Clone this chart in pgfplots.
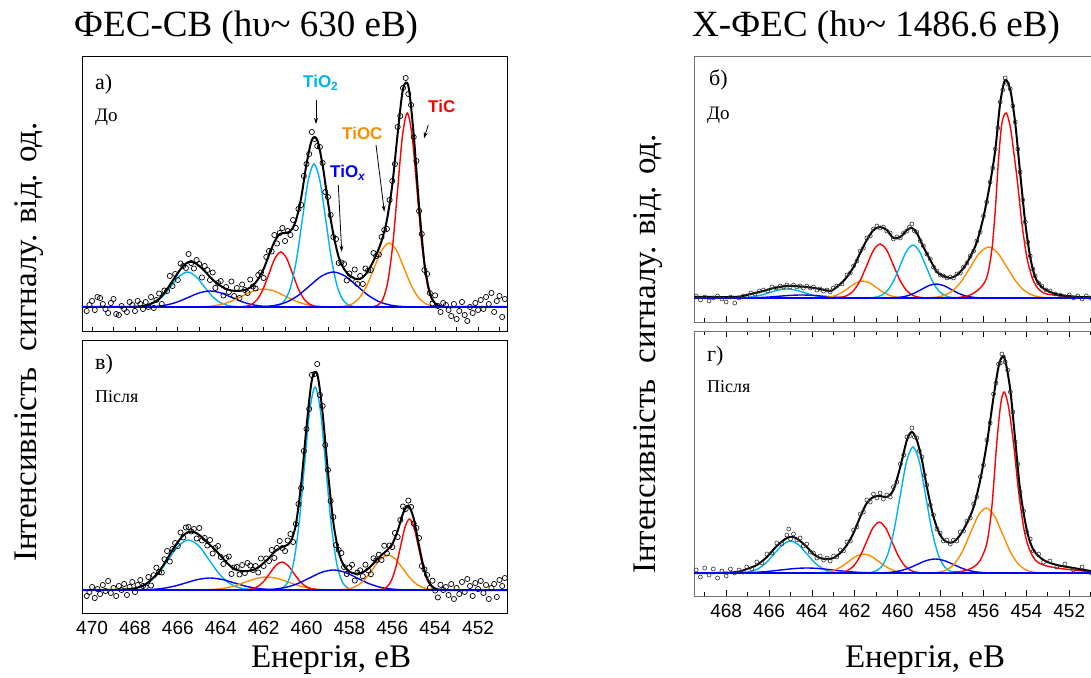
\documentclass[border=0pt]{standalone}
\usepackage{fontspec}
\setmainfont{Liberation Serif}
\newfontfamily\sansf{Liberation Sans}
\usepackage{pgfplots}
\pgfplotsset{compat=1.18}
\usetikzlibrary{arrows.meta}
\definecolor{ccyan}{RGB}{0,176,240}
\definecolor{corange}{RGB}{255,140,0}
\definecolor{cred}{RGB}{255,0,0}
\definecolor{cblue}{RGB}{0,0,255}
\pgfplotsset{
  panel/.style={scale only axis, x dir=reverse, ytick=\empty, clip=true,
    axis line style={line width=0.8pt},
    xtick={452,454,...,470}, minor xtick={451,453,...,469}, tick align=inside,
    tick style={line width=0.8pt, black}, major tick length=4pt, minor tick length=4pt,
    /pgf/number format/assume math mode=true, /pgf/number format/1000 sep={},
    xticklabel style={font=\sansf\fontsize{19}{19}\selectfont, yshift=-5pt},
  },
  comp/.style={smooth, no marks, line width=1.4pt},
  env/.style={smooth, no marks, line width=2pt, black},
  pts/.style={only marks, mark=o, mark size=2.6pt, mark options={line width=0.7pt, black}},
  ptsr/.style={only marks, mark=o, mark size=2pt, mark options={line width=0.6pt, black!80}},
}
\begin{document}
\begin{tikzpicture}[x=1pt,y=1pt]
\useasboundingbox (0pt,0pt) rectangle (1091pt,677pt);
\clip (0pt,0pt) rectangle (1091pt,677pt);

% ---------------- panel a ----------------
\begin{axis}[panel, at={(82pt,346pt)}, anchor=south west, width=425pt, height=275pt,
  xmin=450.65, xmax=470.47, ymin=-24, ymax=251, xtick pos=left, xticklabels={}]
\addplot[pts] coordinates {(470.25,-4)(470.125,2)(470,6)(469.875,-3)(469.75,10)(469.625,9)(469.5,3)(469.375,-2)(469.25,-6)(469.125,4)(469,8)(468.875,-7)(468.75,-8)(468.625,1)(468.5,-2)(468.375,-5)(468.25,5)(468.125,2)(468,-4)(467.875,6)(467.75,3)(467.625,-2)
(467.5,5)(467.375,0)(467.25,10)(467.125,-1)(467,7)(466.875,13.5)(466.75,3)(466.625,16.5)(466.5,16)(466.375,31)(466.25,21)(466.125,33)(466,27)(465.875,43.5)(465.75,41)(465.625,39)(465.5,53)(465.375,44)(465.25,38.5)(465.125,47)(465,43)(464.875,29.5)(464.75,41)(464.625,37)(464.5,27)(464.375,34.5)(464.25,19)(464.125,24)(464,26)(463.875,11.5)(463.75,20)(463.625,15)(463.5,25.5)(463.375,11)(463.25,19)(463.125,9)(463,22.5)(462.875,17)(462.75,14)(462.625,27.5)(462.5,20.5)(462.375,18.5)(462.25,32)(462.125,34.5)(462,29)(461.875,50)(461.75,56)(461.625,55.5)(461.5,72)(461.375,63.5)(461.25,74)(461.125,79)(461,66)(460.875,76)(460.75,72)(460.625,87)(460.5,79)(460.375,98)(460.25,102)(460.125,131)(460,143)(459.875,153)(459.75,175)(459.625,168)(459.5,161)(459.375,160)(459.25,144)(459.125,115)(459,110)(458.875,92)(458.75,70)(458.625,68)(458.5,44)(458.375,44.5)(458.25,43)(458.125,26.5)(458,33.5)(457.875,28)(457.75,37.5)(457.625,23)(457.5,31)(457.375,23)(457.25,38.5)(457.125,36.5)(457,37)(456.875,54)(456.75,51)(456.625,52.5)(456.5,70)(456.375,77)(456.25,78)(456.125,107)(456,126)(455.875,143)(455.75,180)(455.625,191)(455.5,219)(455.375,229)(455.25,213)(455.125,202)(455,170)(454.875,146)(454.75,96)(454.625,73)(454.5,37)(454.375,33)(454.25,14)(454.125,3.5)(454,11.6)(453.875,1)(453.75,-5)(453.625,4)(453.5,2)
(453.375,-3)(453.25,-9)(453.125,3)(453,-12)(452.875,-4)(452.75,5)(452.625,-8)(452.5,-14)(452.375,0)(452.25,-6)(452.125,4)(452,-3)(451.875,7)(451.75,-2)(451.625,10)(451.5,3)(451.375,14)(451.25,-5)(451.125,6)(451,11)(450.875,-10)(450.75,8)};
\addplot[comp, ccyan] coordinates {(468.175,0.08)(467.8,0.39)(467.425,1.54)(467.05,4.74)(466.675,11.36)(466.3,21.23)(465.925,30.89)(465.55,35)(465.175,30.89)(464.8,21.23)(464.425,11.36)(464.05,4.74)(463.675,1.54)(463.3,0.39)(462.925,0.08)};
\addplot[comp, cblue] coordinates {(468,0.04)(467.5,0.18)(467,0.7)(466.5,2.16)(466,5.2)(465.5,9.7)(465,14.1)(464.5,16)(464,14.1)(463.5,9.7)(463,5.2)(462.5,2.16)(462,0.7)(461.5,0.18)(461,0.04)};
\addplot[comp, corange] coordinates {(465.5,0.04)(465,0.2)(464.5,0.79)(464,2.44)(463.5,5.84)(463,10.92)(462.5,15.89)(462,18)(461.5,15.89)(461,10.92)(460.5,5.84)(460,2.44)(459.5,0.79)(459,0.2)(458.5,0.04)};
\addplot[comp, cred] coordinates {(463.125,0.12)(462.85,0.61)(462.575,2.41)(462.3,7.44)(462.025,17.86)(461.75,33.36)(461.475,48.54)(461.2,55)(460.925,48.54)(460.65,33.36)(460.375,17.86)(460.1,7.44)(459.825,2.41)(459.55,0.61)(459.275,0.12)};
\addplot[comp, ccyan] coordinates {(461.575,0.31)(461.3,1.59)(461.025,6.28)(460.75,19.35)(460.475,46.43)(460.2,86.73)(459.925,126.2)(459.65,143)(459.375,126.2)(459.1,86.73)(458.825,46.43)(458.55,19.35)(458.275,6.28)(458,1.59)(457.725,0.31)};
\addplot[comp, cblue] coordinates {(462.6,0.08)(462.05,0.39)(461.5,1.54)(460.95,4.74)(460.4,11.36)(459.85,21.23)(459.3,30.89)(458.75,35)(458.2,30.89)(457.65,21.23)(457.1,11.36)(456.55,4.74)(456,1.54)(455.45,0.39)(454.9,0.08)};
\addplot[comp, corange] coordinates {(458.6,0.14)(458.25,0.71)(457.9,2.81)(457.55,8.66)(457.2,20.78)(456.85,38.82)(456.5,56.48)(456.15,64)(455.8,56.48)(455.45,38.82)(455.1,20.78)(454.75,8.66)(454.4,2.81)(454.05,0.71)(453.7,0.14)};
\addplot[comp, cred] coordinates {(456.875,0.43)(456.65,2.15)(456.425,8.52)(456.2,26.25)(455.975,62.99)(455.75,117.66)(455.525,171.2)(455.3,194)(455.075,171.2)(454.85,117.66)(454.625,62.99)(454.4,26.25)(454.175,8.52)(453.95,2.15)(453.725,0.43)};
\addplot[env] coordinates {(470.4,0)(470,0)(469.5,0)(469,0)(468.5,0.1)(468,0.3)(467.5,1.4)(467,6)(466.75,11)(466.5,18)(466.25,26)(466,34)(465.75,41)(465.5,45)(465.25,44.5)(465,41)(464.75,36)(464.5,30)(464.25,25)(464,21)(463.75,18)(463.5,16.5)(463.25,16)(463,16.5)(462.75,18)(462.5,21.5)(462.25,28)(462,38)(461.75,52)(461.5,65)(461.25,73)(461,74)(460.75,76)(460.5,86)(460.25,109)(460,143)(459.75,167)(459.5,167)(459.25,142)(459,105)(458.75,73)(458.5,50)(458.25,38)(458,31.5)(457.75,28.5)(457.5,28)(457.25,32.5)(457,41)(456.75,52)(456.5,66)(456.25,87)(456,122)(455.75,173)(455.5,218)(455.25,221)(455,172)(454.75,101)(454.5,44)(454.25,14)(454,3.6)(453.75,0.7)(453.5,0)(453,0)(452,0)(451,0)(450.6,0)};
\addplot[cblue, line width=2pt] coordinates {(470.5,0)(450.6,0)};
\end{axis}

% ---------------- panel v ----------------
\begin{axis}[panel, at={(82pt,64pt)}, anchor=south west, width=425pt, height=273pt,
  xmin=450.65, xmax=470.47, ymin=-23, ymax=250, major tick length=0pt, minor tick length=0pt]
\addplot[pts] coordinates {(470.25,-6)(470.125,-2)(470,3)(469.875,-8)(469.75,1)(469.625,-4)(469.5,5)(469.375,-1)(469.25,9)(469.125,-3)(469,2)(468.875,-6)(468.75,4)(468.625,0)(468.5,6)(468.375,-5)(468.25,3)(468.125,8)(468,-2)(467.875,5)(467.75,10)(467.625,4)
(467.5,2.8)(467.375,13)(467.25,4.5)(467.125,14.8)(467,22.3)(466.875,17.8)(466.75,17.5)(466.625,30.7)(466.5,39)(466.375,28.5)(466.25,41)(466.125,47)(466,44)(465.875,57.5)(465.75,52.5)(465.625,62.5)(465.5,63)(465.375,58.5)(465.25,61)(465.125,51.5)(465,62)(464.875,49.5)(464.75,52)(464.625,44.5)(464.5,50)(464.375,36.5)(464.25,42)(464.125,44)(464,33)(463.875,26)(463.75,32)(463.625,33.5)(463.5,16)(463.375,22.5)(463.25,23)(463.125,15.5)(463,25)(462.875,17)(462.75,27)(462.625,24.5)(462.5,20)(462.375,24)(462.25,17.5)(462.125,31.5)(462,24)(461.875,31.5)(461.75,29)(461.625,40)(461.5,32)(461.375,42)(461.25,49)(461.125,42)(461,39)(460.875,49.5)(460.75,56)(460.625,48)(460.5,66)(460.375,86)(460.25,102)(460.125,139)(460,161)(459.875,181)(459.75,215)(459.625,216)(459.5,226)(459.375,195)(459.25,184)(459.125,145)(459,120)(458.875,89)(458.75,73)(458.625,45)(458.5,40)(458.375,37)(458.25,23)(458.125,16)(458,22.4)(457.875,25.2)(457.75,9.4)(457.625,17.4)(457.5,19.7)(457.375,13.8)(457.25,25.3)(457.125,19.5)(457,15.8)(456.875,31.7)(456.75,29.6)(456.625,35.3)(456.5,30)(456.375,44.3)(456.25,36.6)(456.125,44.5)(456,43)(455.875,57)(455.75,53)(455.625,70)(455.5,83.5)(455.375,81)(455.25,89.4)(455.125,83)(455,66.4)(454.875,62)(454.75,52)(454.625,24)(454.5,20.6)(454.375,15)(454.25,2.2)(454.125,9.3)(454,-0.6)(453.875,-7.4)(453.75,5.2)(453.625,0)(453.5,3)
(453.375,-5)(453.25,6)(453.125,-9)(453,2)(452.875,-4)(452.75,8)(452.625,-2)(452.5,11)(452.375,4)(452.25,-6)(452.125,7)(452,1)(451.875,9)(451.75,-3)(451.625,5)(451.5,-9)(451.375,2)(451.25,6)(451.125,-7)(451,10)(450.875,4)(450.75,12)};
\addplot[comp, ccyan] coordinates {(468.825,0.11)(468.35,0.56)(467.875,2.2)(467.4,6.77)(466.925,16.24)(466.45,30.33)(465.975,44.13)(465.5,50)(465.025,44.13)(464.55,30.33)(464.075,16.24)(463.6,6.77)(463.125,2.2)(462.65,0.56)(462.175,0.11)};
\addplot[comp, cblue] coordinates {(468.35,0.03)(467.8,0.13)(467.25,0.53)(466.7,1.62)(466.15,3.9)(465.6,7.28)(465.05,10.59)(464.5,12)(463.95,10.59)(463.4,7.28)(462.85,3.9)(462.3,1.62)(461.75,0.53)(461.2,0.13)(460.65,0.03)};
\addplot[comp, corange] coordinates {(465.35,0.03)(464.85,0.14)(464.35,0.57)(463.85,1.76)(463.35,4.22)(462.85,7.88)(462.35,11.47)(461.85,13)(461.35,11.47)(460.85,7.88)(460.35,4.22)(459.85,1.76)(459.35,0.57)(458.85,0.14)(458.35,0.03)};
\addplot[comp, cred] coordinates {(463.075,0.06)(462.8,0.31)(462.525,1.23)(462.25,3.79)(461.975,9.09)(461.7,16.98)(461.425,24.71)(461.15,28)(460.875,24.71)(460.6,16.98)(460.325,9.09)(460.05,3.79)(459.775,1.23)(459.5,0.31)(459.225,0.06)};
\addplot[comp, ccyan] coordinates {(461.35,0.45)(461.1,2.25)(460.85,8.91)(460.6,27.47)(460.35,65.91)(460.1,123.12)(459.85,179.15)(459.6,203)(459.35,179.15)(459.1,123.12)(458.85,65.91)(458.6,27.47)(458.35,8.91)(458.1,2.25)(457.85,0.45)};
\addplot[comp, cblue] coordinates {(462.6,0.04)(462.05,0.22)(461.5,0.88)(460.95,2.71)(460.4,6.49)(459.85,12.13)(459.3,17.65)(458.75,20)(458.2,17.65)(457.65,12.13)(457.1,6.49)(456.55,2.71)(456,0.88)(455.45,0.22)(454.9,0.04)};
\addplot[comp, corange] coordinates {(458.65,0.08)(458.3,0.39)(457.95,1.54)(457.6,4.74)(457.25,11.36)(456.9,21.23)(456.55,30.89)(456.2,35)(455.85,30.89)(455.5,21.23)(455.15,11.36)(454.8,4.74)(454.45,1.54)(454.1,0.39)(453.75,0.08)};
\addplot[comp, cred] coordinates {(456.67,0.16)(456.46,0.79)(456.25,3.12)(456.04,9.61)(455.83,23.05)(455.62,43.06)(455.41,62.66)(455.2,71)(454.99,62.66)(454.78,43.06)(454.57,23.05)(454.36,9.61)(454.15,3.12)(453.94,0.79)(453.73,0.16)};
\addplot[env] coordinates {(470.4,0)(470,0)(469.5,0.1)(469,0.2)(468.5,0.6)(468,1.7)(467.5,5.8)(467,15.3)(466.75,22.5)(466.5,31)(466.25,40)(466,48)(465.75,54.5)(465.5,58)(465.25,58)(465,55)(464.75,50)(464.5,45)(464.25,40)(464,34)(463.75,28)(463.5,23)(463.25,20)(463,19)(462.75,19)(462.5,20)(462.25,22.5)(462,27)(461.75,32)(461.5,38)(461.25,42)(461,44)(460.75,48)(460.5,65)(460.25,106)(460,163)(459.75,210)(459.5,216)(459.25,177)(459,118)(458.75,68)(458.5,38)(458.25,24)(458,18.4)(457.75,16.4)(457.5,16.7)(457.25,19.3)(457,23.8)(456.75,29.6)(456.5,35)(456.25,39.6)(456,46)(455.75,59)(455.5,76.5)(455.25,84.4)(455,71.4)(454.75,44)(454.5,19.6)(454.25,6.2)(454,1.4)(453.75,0.2)(453.5,0)(453,0)(452,0)(450.6,0)};
\addplot[cblue, line width=2pt] coordinates {(470.5,0)(450.6,0)};
\end{axis}

% ---------------- panel b ----------------
\begin{axis}[panel, at={(694pt,355pt)}, anchor=south west, width=407.4pt, height=266pt,
  xmin=450.5, xmax=469.5, ymin=-24, ymax=242, xtick pos=left, xticklabels={},
  axis line style={black!55}, major tick length=6pt, minor tick length=4pt]
\addplot[ptsr] coordinates {(469.4,2)(469.2,-2)(469,1)(468.8,-3)(468.6,0)(468.4,2)(468.2,-1)(468,-4)(467.8,1)(467.6,-5)(467.4,0)(467.2,2)(467.04,2)(466.85,5)(466.65,4)(466.45,7)(466.26,8)(466.06,7)(465.87,11)(465.67,10)(465.48,12)(465.33,11)(465.17,13)(465.02,11)(464.86,13)(464.7,11)(464.55,12)(464.4,10)(464.24,12)(464.08,10)(463.93,11)(463.77,8)(463.62,9)(463.46,7)(463.3,8)(463.15,6)(463,10)(462.84,12)(462.6,14)(462.37,23)(462.21,25)(462.06,32)(461.9,37)(461.75,47)(461.6,50)(461.44,60)(461.28,62)(461.13,69)(460.97,72)(460.82,70)(460.67,71)(460.51,67)(460.35,65)(460.2,59)(460.04,61)(459.88,60)(459.72,65)(459.57,67)(459.45,71)(459.34,74)(459.22,67)(459.11,66)(458.95,57)(458.8,52)(458.64,44)(458.48,39)(458.33,31)(458.17,27)(458.02,23)(457.86,22)(457.7,20)(457.55,21)(457.4,20)(457.24,24)(457.08,25)(456.93,31)(456.77,35)(456.62,42)(456.46,47)(456.31,57)(456.15,66)(456,82)(455.85,96)(455.69,116)(455.57,130)(455.45,149)(455.33,170)(455.22,196)(455.1,208)(454.99,220)(454.87,214)(454.75,209)(454.63,192)(454.52,176)(454.4,149)(454.29,126)(454.17,98)(454.05,76)(453.94,56)(453.82,42)(453.7,29)(453.59,22)(453.43,15)(453.28,12)(453.08,8)(452.89,7)(452.65,4)(452.42,3)(452.2,1)(452,3)(451.8,0)(451.6,2)(451.4,-1)(451.2,2)(451,0)(450.8,1)(450.6,-1)};
\addplot[comp, ccyan] coordinates {(467.97,0.02)(467.57,0.1)(467.17,0.4)(466.77,1.22)(466.37,2.92)(465.97,5.46)(465.57,7.94)(465.17,9)(464.77,7.94)(464.37,5.46)(463.97,2.92)(463.57,1.22)(463.17,0.4)(462.77,0.1)(462.37,0.02)};
\addplot[comp, cblue] coordinates {(468,0)(467.5,0.03)(467,0.13)(466.5,0.41)(466,0.97)(465.5,1.82)(465,2.65)(464.5,3)(464,2.65)(463.5,1.82)(463,0.97)(462.5,0.41)(462,0.13)(461.5,0.03)(461,0)};
\addplot[comp, corange] coordinates {(463.905,0.04)(463.58,0.19)(463.255,0.75)(462.93,2.3)(462.605,5.52)(462.28,10.31)(461.955,15)(461.63,17)(461.305,15)(460.98,10.31)(460.655,5.52)(460.33,2.3)(460.005,0.75)(459.68,0.19)(459.355,0.04)};
\addplot[comp, cred] coordinates {(462.99,0.12)(462.68,0.6)(462.37,2.37)(462.06,7.31)(461.75,17.53)(461.44,32.75)(461.13,47.66)(460.82,54)(460.51,47.66)(460.2,32.75)(459.89,17.53)(459.58,7.31)(459.27,2.37)(458.96,0.6)(458.65,0.12)};
\addplot[comp, ccyan] coordinates {(461.39,0.12)(461.09,0.59)(460.79,2.33)(460.49,7.17)(460.19,17.21)(459.89,32.14)(459.59,46.77)(459.29,53)(458.99,46.77)(458.69,32.14)(458.39,17.21)(458.09,7.17)(457.79,2.33)(457.49,0.59)(457.19,0.12)};
\addplot[comp, cblue] coordinates {(460.65,0.03)(460.3,0.16)(459.95,0.61)(459.6,1.89)(459.25,4.55)(458.9,8.49)(458.55,12.36)(458.2,14)(457.85,12.36)(457.5,8.49)(457.15,4.55)(456.8,1.89)(456.45,0.61)(456.1,0.16)(455.75,0.03)};
\addplot[comp, corange] coordinates {(458.735,0.11)(458.31,0.57)(457.885,2.24)(457.46,6.9)(457.035,16.56)(456.61,30.93)(456.185,45.01)(455.76,51)(455.335,45.01)(454.91,30.93)(454.485,16.56)(454.06,6.9)(453.635,2.24)(453.21,0.57)(452.785,0.11)};
\addplot[comp, cred] coordinates {(457.4,0.3)(457.08,0.7)(456.62,3)(456.15,10)(455.84,21)(455.61,48)(455.45,88)(455.3,138)(455.14,175)(454.94,185)(454.75,171)(454.6,148)(454.41,115)(454.21,75)(453.98,41)(453.74,21)(453.51,11)(453.2,5)(452.73,3)(451.96,1.3)(450.98,1)(450.4,1)};
\addplot[env] coordinates {(469.6,1)(468.5,1)(467.8,1)(467.35,1.5)(467.04,3)(466.65,5)(466.26,7)(465.87,9.5)(465.48,11)(465.17,12)(464.86,12)(464.55,11.5)(464.24,11)(463.93,10)(463.62,9)(463.3,7.5)(463.15,7)(462.99,8.5)(462.84,11)(462.6,15.5)(462.37,21)(462.06,31)(461.75,45)(461.44,58)(461.13,68)(460.82,71)(460.51,68)(460.2,60)(459.88,61)(459.57,68)(459.34,70)(459.11,65)(458.8,51)(458.48,38)(458.17,26)(457.86,22)(457.55,20)(457.24,23)(456.93,30)(456.62,41)(456.31,56)(456,81)(455.69,115)(455.45,148)(455.22,195)(454.99,218)(454.75,208)(454.52,175)(454.29,125)(454.05,75)(453.82,41)(453.59,21)(453.28,11)(452.89,6)(452.42,3)(451.49,1)(450.4,1)};
\addplot[cblue, line width=2pt] coordinates {(469.6,0)(450.4,0)};
\end{axis}

% ---------------- panel g ----------------
\begin{axis}[panel, at={(694pt,81pt)}, anchor=south west, width=407.4pt, height=265pt,
  xmin=450.5, xmax=469.5, ymin=-23, ymax=242,
  axis line style={black!55}, major tick length=6pt, minor tick length=4pt]
\addplot[ptsr] coordinates {(469.4,3)(469.2,-4)(469,5)(468.8,-2)(468.6,4)(468.4,-5)(468.2,2)(468,-3)(467.8,4)(467.6,0)(467.4,3)(467.2,1)(467.04,6)(466.8,4)(466.57,11)(466.33,10)(466.1,19)(465.87,20)(465.64,30)(465.4,29)(465.17,38)(465.08,44)(465,34)(464.86,39)(464.7,33)(464.55,35)(464.4,27)(464.24,29)(464.08,21)(463.93,20)(463.77,15)(463.62,17)(463.46,13)(463.3,15)(463.15,12)(462.99,17)(462.84,16)(462.68,23)(462.53,22)(462.37,31)(462.21,32)(462.06,43)(461.9,46)(461.75,59)(461.6,61)(461.44,73)(461.28,71)(461.13,79)(460.97,75)(460.82,80)(460.67,74)(460.51,78)(460.35,76)(460.2,86)(460.04,91)(459.88,109)(459.72,118)(459.57,136)(459.45,137)(459.34,145)(459.22,136)(459.11,135)(458.99,122)(458.87,116)(458.75,98)(458.64,88)(458.48,68)(458.33,58)(458.17,44)(458.02,40)(457.87,32)(457.71,33)(457.55,29)(457.4,33)(457.24,32)(457.09,41)(456.93,42)(456.77,52)(456.62,55)(456.46,69)(456.31,76)(456.15,96)(456,108)(455.84,133)(455.69,150)(455.53,179)(455.42,190)(455.3,209)(455.22,210)(455.14,219)(455.07,216)(454.99,211)(454.87,203)(454.75,181)(454.63,161)(454.52,131)(454.4,109)(454.29,81)(454.13,62)(453.98,41)(453.82,34)(453.67,22)(453.43,19)(453.2,11)(452.9,12)(452.58,6)(452.2,9)(451.8,3)(451.4,6)(450.98,0)(450.8,-4)};
\addplot[comp, ccyan] coordinates {(467.625,0.07)(467.25,0.36)(466.875,1.4)(466.5,4.33)(466.125,10.39)(465.75,19.41)(465.375,28.24)(465,32)(464.625,28.24)(464.25,19.41)(463.875,10.39)(463.5,4.33)(463.125,1.4)(462.75,0.36)(462.375,0.07)};
\addplot[comp, cblue] coordinates {(468.44,0.01)(467.84,0.06)(467.24,0.22)(466.64,0.68)(466.04,1.62)(465.44,3.03)(464.84,4.41)(464.24,5)(463.64,4.41)(463.04,3.03)(462.44,1.62)(461.84,0.68)(461.24,0.22)(460.64,0.06)(460.04,0.01)};
\addplot[comp, corange] coordinates {(464.04,0.04)(463.69,0.21)(463.34,0.83)(462.99,2.57)(462.64,6.17)(462.29,11.52)(461.94,16.77)(461.59,19)(461.24,16.77)(460.89,11.52)(460.54,6.17)(460.19,2.57)(459.84,0.83)(459.49,0.21)(459.14,0.04)};
\addplot[comp, cred] coordinates {(462.96,0.11)(462.66,0.57)(462.36,2.24)(462.06,6.9)(461.76,16.56)(461.46,30.93)(461.16,45.01)(460.86,51)(460.56,45.01)(460.26,30.93)(459.96,16.56)(459.66,6.9)(459.36,2.24)(459.06,0.57)(458.76,0.11)};
\addplot[comp, ccyan] coordinates {(461.39,0.28)(461.09,1.4)(460.79,5.53)(460.49,17.05)(460.19,40.91)(459.89,76.42)(459.59,111.2)(459.29,126)(458.99,111.2)(458.69,76.42)(458.39,40.91)(458.09,17.05)(457.79,5.53)(457.49,1.4)(457.19,0.28)};
\addplot[comp, cblue] coordinates {(461.225,0.03)(460.8,0.16)(460.375,0.61)(459.95,1.89)(459.525,4.55)(459.1,8.49)(458.675,12.36)(458.25,14)(457.825,12.36)(457.4,8.49)(456.975,4.55)(456.55,1.89)(456.125,0.61)(455.7,0.16)(455.275,0.03)};
\addplot[comp, corange] coordinates {(458.495,0.14)(458.12,0.72)(457.745,2.85)(457.37,8.79)(456.995,21.11)(456.62,39.42)(456.245,57.36)(455.87,65)(455.495,57.36)(455.12,39.42)(454.745,21.11)(454.37,8.79)(453.995,2.85)(453.62,0.72)(453.245,0.14)};
\addplot[comp, cred] coordinates {(457.4,1)(456.93,2)(456.46,6)(456.15,13)(455.84,30)(455.61,66)(455.38,130)(455.19,170)(455.03,181)(454.83,166)(454.6,130)(454.37,83)(454.13,46)(453.9,26)(453.59,13)(453.2,8)(452.58,5)(451.8,3)(450.98,1.3)(450.4,1)};
\addplot[env] coordinates {(469.6,0)(468.5,0)(467.5,1)(467.04,4)(466.57,8)(466.1,16)(465.64,27)(465.17,35)(464.86,36)(464.55,32)(464.24,26)(463.93,19)(463.62,15)(463.3,14)(462.99,15)(462.68,20)(462.37,28)(462.06,40)(461.75,56)(461.44,70)(461.13,76)(460.82,77)(460.51,76)(460.2,83)(459.88,106)(459.57,133)(459.34,141)(459.11,133)(458.87,113)(458.64,86)(458.33,56)(458.02,38)(457.71,31)(457.4,31)(457.09,38)(456.77,50)(456.46,66)(456.15,93)(455.84,130)(455.53,176)(455.3,206)(455.14,216)(454.99,213)(454.75,183)(454.52,133)(454.29,83)(453.98,43)(453.67,23)(453.2,13)(452.58,8)(451.8,5)(450.98,2)(450.4,2)};
\addplot[cblue, line width=2pt] coordinates {(469.6,0)(450.4,0)};
\end{axis}

% ---------------- texts ----------------
\node[font=\fontsize{37}{40}\selectfont, anchor=base] at (246pt,640pt) {ФЕС-СВ (hυ\textasciitilde{} 630 еВ)};
\node[font=\fontsize{37}{40}\selectfont, anchor=base] at (876pt,640pt) {Х-ФЕС (hυ\textasciitilde{} 1486.6 еВ)};
\node[font=\fontsize{33}{36}\selectfont, rotate=90] at (29pt,335pt) {Інтенсивність\ \ сигналу. від. од.};
\node[font=\fontsize{33}{36}\selectfont, rotate=90] at (648pt,323pt) {Інтенсивність\ \ сигналу. від. од.};
\node[font=\fontsize{33}{36}\selectfont, anchor=base] at (331pt,10pt) {Енергія, еВ};
\node[font=\fontsize{33}{36}\selectfont, anchor=base] at (925pt,10pt) {Енергія, еВ};

\node[font=\fontsize{22}{22}\selectfont, anchor=base west, inner sep=0] at (95pt,587pt) {а)};
\node[font=\fontsize{19}{19}\selectfont, anchor=base west, inner sep=0] at (95pt,555pt) {До};
\node[font=\fontsize{22}{22}\selectfont, anchor=base west, inner sep=0] at (95pt,307pt) {в)};
\node[font=\fontsize{18}{18}\selectfont, anchor=base west, inner sep=0] at (95pt,274pt) {Після};
\node[font=\fontsize{22}{22}\selectfont, anchor=base west, inner sep=0] at (709pt,591pt) {б)};
\node[font=\fontsize{19}{19}\selectfont, anchor=base west, inner sep=0] at (707pt,557pt) {До};
\node[font=\fontsize{22}{22}\selectfont, anchor=base west, inner sep=0] at (707pt,315pt) {г)};
\node[font=\fontsize{18}{18}\selectfont, anchor=base west, inner sep=0] at (707pt,284pt) {Після};

\node[font=\sansf\bfseries\fontsize{17}{17}\selectfont, text=ccyan, anchor=base west, inner sep=0] at (303pt,589pt) {TiO\textsubscript{2}};
\node[font=\sansf\bfseries\fontsize{17}{17}\selectfont, text=corange, anchor=base west, inner sep=0] at (342pt,537pt) {TiOC};
\node[font=\sansf\bfseries\fontsize{17}{17}\selectfont, text=cred, anchor=base west, inner sep=0] at (428pt,564pt) {TiC};
\node[font=\sansf\bfseries\fontsize{17}{17}\selectfont, text=cblue, anchor=base west, inner sep=0] at (330pt,499pt) {TiO\textsubscript{\itshape x}};
\draw[-{Stealth[length=6pt,width=4pt]}, line width=0.8pt] (316pt,577pt) -- (316pt,553pt);
\draw[-{Stealth[length=6pt,width=4pt]}, line width=0.8pt] (376pt,532pt) -- (384.3pt,465.3pt);
\draw[-{Stealth[length=6pt,width=4pt]}, line width=0.8pt] (428.3pt,552pt) -- (424pt,538.7pt);
\draw[-{Stealth[length=6pt,width=4pt]}, line width=0.8pt] (338.3pt,492pt) -- (341.7pt,425.3pt);
\end{tikzpicture}
\end{document}
